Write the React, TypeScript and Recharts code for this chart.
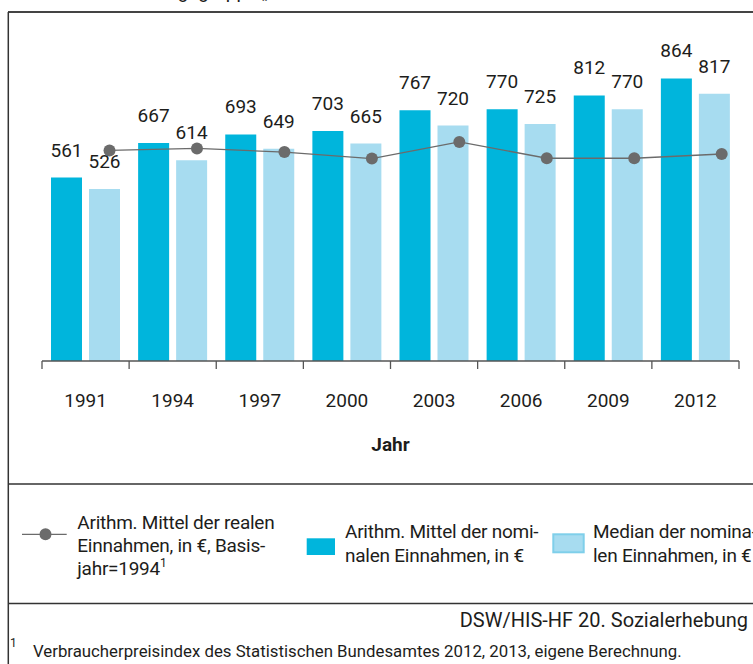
import React from 'react';
import { ComposedChart, Bar, Line, XAxis, YAxis, LabelList } from 'recharts';

const years = ['1991', '1994', '1997', '2000', '2003', '2006', '2009', '2012'];
const nominalMean = [561, 667, 693, 703, 767, 770, 812, 864];
const nominalMedian = [526, 614, 649, 665, 720, 725, 770, 817];
const realMean = [644, 650, 639, 619, 670, 620, 620, 633];

const legendReal = ['Arithm. Mittel der realen', 'Einnahmen, in €, Basis-', 'jahr=1994'];
const legendMean = ['Arithm. Mittel der nomi-', 'nalen Einnahmen, in €'];
const legendMedian = ['Median der nomina-', 'len Einnahmen, in €'];
const sourceText = 'DSW/HIS-HF 20. Sozialerhebung';
const footnoteText = 'Verbraucherpreisindex des Statistischen Bundesamtes 2012, 2013, eigene Berechnung.';
const titleText = 'Bezugsgruppe „Normalstudierende“';

const data = years.map((year, i) => ({
  year,
  idx: i,
  mean: nominalMean[i],
  median: nominalMedian[i],
  real: realMean[i],
}));

const W = 753;
const H = 664;
const M = { top: 34, right: 14, left: 42, bottom: 0 };
const AXIS_H = 303;
const PLOT_BOTTOM = H - M.bottom - AXIS_H;
const PLOT_W = W - M.left - M.right;
const BAND = PLOT_W / years.length;

const FONT = 'Roboto, "Open Sans", sans-serif';
const TXT = '#1d1d1b';
const DARK = '#00b5dc';
const LIGHT = '#a7dcf0';
const GREY = '#6b6b6b';
const LS = -0.25;

const YearTick = (props: any) => {
  const { x, payload, index } = props;
  const last = index === years.length - 1;
  return (
    <g>
      <line x1={x - BAND / 2} x2={x - BAND / 2} y1={PLOT_BOTTOM} y2={PLOT_BOTTOM + 8} stroke="#555" strokeWidth={1.3} />
      {last && (
        <line x1={x + BAND / 2} x2={x + BAND / 2} y1={PLOT_BOTTOM} y2={PLOT_BOTTOM + 8} stroke="#555" strokeWidth={1.3} />
      )}
      <text x={x} y={PLOT_BOTTOM + 46} textAnchor="middle" fontFamily={FONT} fontSize={19} fill={TXT}>
        {payload.value}
      </text>
    </g>
  );
};

const Overlay = () => (
  <svg width={W} height={H} style={{ position: 'absolute', left: 0, top: 0, pointerEvents: 'none' }}>
    <text x={136} y={-2} fontFamily={FONT} fontSize={19} fill={TXT}>{titleText}</text>
    {/* frame */}
    <line x1={8} x2={W} y1={12} y2={12} stroke="#444" strokeWidth={1.8} />
    <line x1={8.3} x2={8.3} y1={12} y2={H} stroke="#333" strokeWidth={1.5} />
    <line x1={8} x2={W} y1={484} y2={484} stroke="#333" strokeWidth={1.5} />
    <line x1={8} x2={W} y1={603.5} y2={603.5} stroke="#333" strokeWidth={1.5} />
    {/* axis title */}
    <text x={M.left + PLOT_W / 2} y={451} textAnchor="middle" fontFamily={FONT} fontSize={19} fontWeight="bold" fill={TXT}>Jahr</text>
    {/* legend: line */}
    <line x1={22} x2={66.7} y1={534.3} y2={534.3} stroke={GREY} strokeWidth={1.3} />
    <circle cx={45.5} cy={534.3} r={6} fill={GREY} />
    {legendReal.map((t, i) => (
      <text key={t} x={77.3} y={529 + i * 23} fontFamily={FONT} fontSize={19} letterSpacing={LS} fill={TXT}>
        {t}
        {i === legendReal.length - 1 && <tspan fontSize={12} dy={-8}>1</tspan>}
      </text>
    ))}
    {/* legend: mean */}
    <rect x={306.7} y={538.3} width={28.3} height={16.7} fill={DARK} />
    {legendMean.map((t, i) => (
      <text key={t} x={345} y={538 + i * 23.5} fontFamily={FONT} fontSize={19} letterSpacing={LS} fill={TXT}>{t}</text>
    ))}
    {/* legend: median */}
    <rect x={553.3} y={534.3} width={30.4} height={18} fill={LIGHT} stroke="#7fcfea" strokeWidth={2} />
    {legendMedian.map((t, i) => (
      <text key={t} x={593} y={538 + i * 23.5} fontFamily={FONT} fontSize={19} letterSpacing={LS} fill={TXT}>{t}</text>
    ))}
    {/* source */}
    <text x={748} y={626.7} textAnchor="end" fontFamily={FONT} fontSize={20} fill={TXT}>{sourceText}</text>
    {/* footnote */}
    <text x={10} y={647} fontFamily={FONT} fontSize={12} fill={TXT}>1</text>
    <text x={33} y={656.7} fontFamily={FONT} fontSize={16.8} fill={TXT}>{footnoteText}</text>
  </svg>
);

export default function App() {
  return (
    <div style={{ position: 'absolute', left: 0, top: 0, width: W, height: H, background: '#fff' }}>
      <ComposedChart width={W} height={H} data={data} margin={M} barCategoryGap={9} barGap={7}>
        <XAxis
          xAxisId="cat"
          dataKey="year"
          type="category"
          height={AXIS_H}
          interval={0}
          tickLine={false}
          axisLine={{ stroke: '#555', strokeWidth: 1.3 }}
          tick={<YearTick />}
        />
        <XAxis xAxisId="line" dataKey="idx" type="number" domain={[-0.772, 7.198]} allowDataOverflow hide height={0} />
        <YAxis domain={[0, 1000]} hide width={0} />
        <Bar xAxisId="cat" dataKey="mean" fill={DARK} isAnimationActive={false}>
          <LabelList dataKey="mean" position="top" offset={21} fontFamily={FONT} fontSize={19} fill={TXT} />
        </Bar>
        <Bar xAxisId="cat" dataKey="median" fill={LIGHT} isAnimationActive={false}>
          <LabelList dataKey="median" position="top" offset={21} fontFamily={FONT} fontSize={19} fill={TXT} />
        </Bar>
        <Line
          xAxisId="line"
          dataKey="real"
          stroke={GREY}
          strokeWidth={1.3}
          dot={{ r: 6, fill: GREY, stroke: 'none' }}
          activeDot={false}
          isAnimationActive={false}
        />
      </ComposedChart>
      <Overlay />
    </div>
  );
}
